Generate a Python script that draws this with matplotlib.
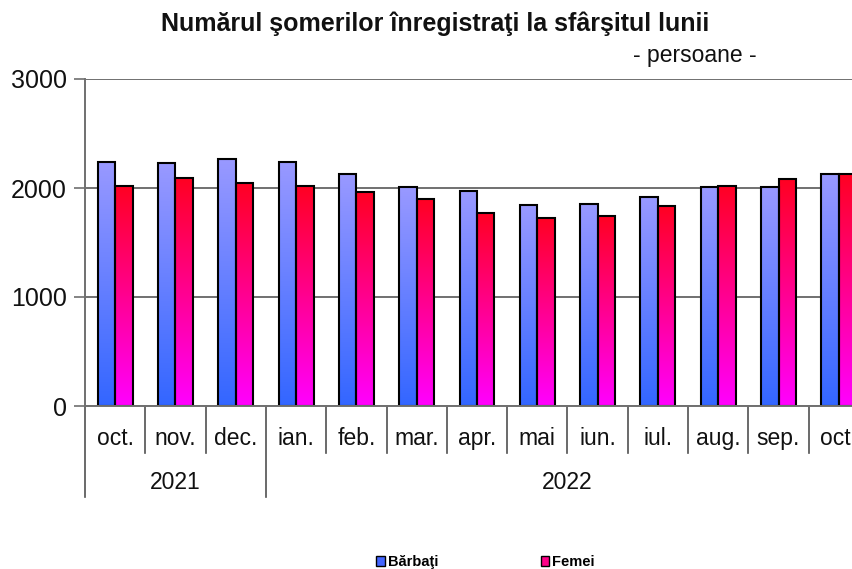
import matplotlib.pyplot as plt
import numpy as np
from matplotlib.colors import LinearSegmentedColormap
from matplotlib.patches import Patch

plt.rcParams['font.family'] = ['Liberation Sans', 'DejaVu Sans']

months = ['oct.', 'nov.', 'dec.', 'ian.', 'feb.', 'mar.', 'apr.', 'mai', 'iun.', 'iul.', 'aug.', 'sep.', 'oct.']
years = ['2021', '2022']
year_spans = [(0, 2), (3, 12)]
barbati = [2240, 2226, 2263, 2240, 2128, 2009, 1970, 1844, 1852, 1920, 2006, 2006, 2128]
femei = [2018, 2089, 2043, 2018, 1963, 1899, 1771, 1725, 1743, 1832, 2021, 2080, 2128]

cmap_b = LinearSegmentedColormap.from_list('b', ['#3366ff', '#9999ff'])
cmap_f = LinearSegmentedColormap.from_list('f', ['#ff00ff', '#ff0022'])

fig = plt.figure(figsize=(8.52, 5.69), dpi=100)
ax = fig.add_axes([85 / 852, 163 / 569, 784 / 852, 327 / 569])

x = np.arange(len(months))
w = 0.29
grad = np.linspace(0, 1, 256).reshape(-1, 1)

for vals, off, cmap in [(barbati, -w / 2, cmap_b), (femei, w / 2, cmap_f)]:
    bars = ax.bar(x + off, vals, width=w, facecolor='none', edgecolor='black', linewidth=1.5, zorder=4)
    for b in bars:
        x0, y0 = b.get_x(), b.get_y()
        ax.imshow(grad, cmap=cmap, origin='lower', aspect='auto', zorder=3,
                  extent=[x0, x0 + b.get_width(), y0, y0 + b.get_height()])

ax.set_xlim(-0.5, len(months) - 0.5)
ax.set_ylim(0, 3000)
ax.set_yticks([0, 1000, 2000, 3000])
ax.set_yticklabels(['0', '1000', '2000', '3000'], fontsize=18, color='#111111')
ax.tick_params(axis='y', length=8, width=1.2, color='#707070', pad=5)
ax.set_xticks([])
ax.grid(axis='y', color='#707070', linewidth=1.4, zorder=1)
for s in ['top', 'right']:
    ax.spines[s].set_visible(False)
ax.spines['left'].set_color('#707070')
ax.spines['left'].set_linewidth(1.4)
ax.spines['bottom'].set_color('#707070')
ax.spines['bottom'].set_linewidth(1.4)
ax.spines['bottom'].set_zorder(5)

# category axis separators and labels
trans = ax.get_xaxis_transform()
year_starts = [s for s, e in year_spans]
for k in range(len(months) + 1):
    bottom = -0.278 if k in year_starts or k == len(months) else -0.144
    ax.plot([k - 0.5, k - 0.5], [0, bottom], transform=trans, color='#505050', lw=1.2, clip_on=False)
for i, m in enumerate(months):
    ax.text(i, -0.1, m, transform=trans, ha='center', va='center', fontsize=16.5, color='#111111')
for yl, (s, e) in zip(years, year_spans):
    ax.text((s + e) / 2, -0.235, yl, transform=trans, ha='center', va='center', fontsize=16.5, color='#111111')

fig.text(0.511, 0.958, 'Numărul şomerilor înregistraţi la sfârşitul lunii', ha='center', va='center',
         fontsize=18, fontweight='bold', color='#111111')
fig.text(0.816, 0.902, '- persoane -', ha='center', va='center', fontsize=16.5, color='#111111')

handles = [Patch(facecolor='#4466ff', edgecolor='black', lw=1),
           Patch(facecolor='#ff0088', edgecolor='black', lw=1)]
fig.legend(handles, ['Bărbaţi', 'Femei'], loc='center', bbox_to_anchor=(0.57, 0.012), ncol=2,
           frameon=False, handlelength=0.6, handleheight=0.6, handletextpad=0.2, columnspacing=7,
           prop={'size': 10.5, 'weight': 'bold'})

fig.savefig('out.png', dpi=100)
